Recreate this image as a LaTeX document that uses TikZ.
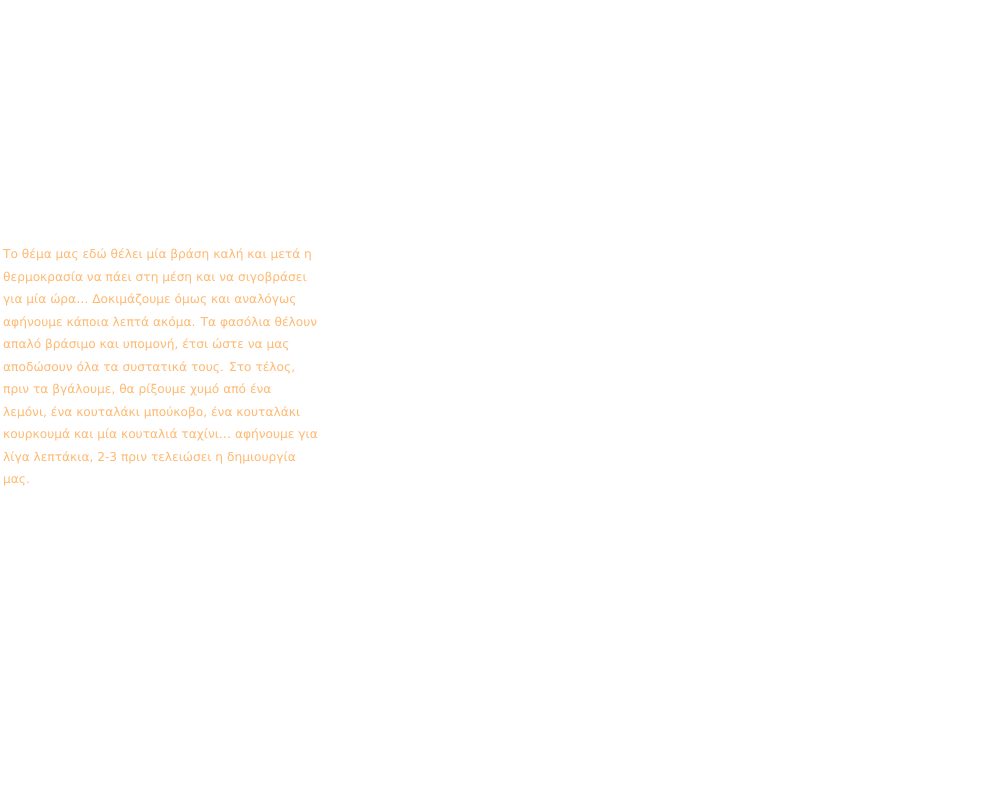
\documentclass[tikz,border=0pt]{standalone}
\usepackage{fontspec}
\setmainfont{DejaVu Sans}
\definecolor{recipeorange}{HTML}{FFB870}
\tikzset{recipetext/.style={anchor=north west, inner sep=0pt, text=recipeorange, font=\fontsize{12.2pt}{22.45pt}\selectfont, align=left}}
\begin{document}
\begin{tikzpicture}[x=1pt,y=1pt]
            \useasboundingbox (0,0) rectangle (982,-804);
            % recipe paragraph
            \node[recipetext] (recipe) at (3,-249) {Το θέμα μας εδώ θέλει μία βράση καλή και μετά η\\
            θερμοκρασία να πάει στη μέση και να σιγοβράσει\\
            για μία ώρα… Δοκιμάζουμε όμως και αναλόγως\\
            αφήνουμε κάποια λεπτά ακόμα. Τα φασόλια θέλουν\\
            απαλό βράσιμο και υπομονή, έτσι ώστε να μας\\
            αποδώσουν όλα τα συστατικά τους. Στο τέλος,\\
            πριν τα βγάλουμε, θα ρίξουμε χυμό από ένα\\
            λεμόνι, ένα κουταλάκι μπούκοβο, ένα κουταλάκι\\
            κουρκουμά και μία κουταλιά ταχίνι… αφήνουμε για\\
            λίγα λεπτάκια, 2-3 πριν τελειώσει η δημιουργία\\
            μας.};
\end{tikzpicture}
\end{document}
